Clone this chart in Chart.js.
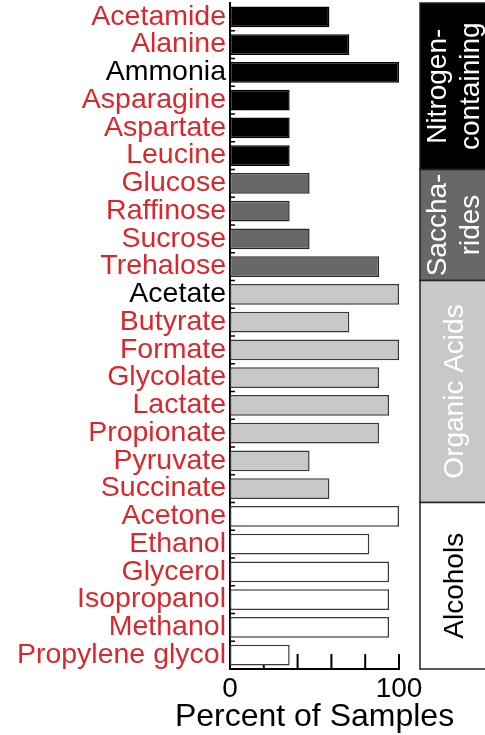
<!DOCTYPE html>
<html>
<head>
<meta charset="utf-8">
<script src="https://cdn.jsdelivr.net/npm/chart.js@4"></script>
<style>
  html, body { margin: 0; padding: 0; background: #fff; }
  #wrap { width: 485px; height: 735px; position: relative; }
</style>
</head>
<body>
<div id="wrap"><canvas id="chart"></canvas></div>
<script>
// compounds, top to bottom
const categories = ['Acetamide', 'Alanine', 'Ammonia', 'Asparagine', 'Aspartate', 'Leucine',
  'Glucose', 'Raffinose', 'Sucrose', 'Trehalose',
  'Acetate', 'Butyrate', 'Formate', 'Glycolate', 'Lactate', 'Propionate', 'Pyruvate', 'Succinate',
  'Acetone', 'Ethanol', 'Glycerol', 'Isopropanol', 'Methanol', 'Propylene glycol'];
const percentValues = [58.8, 70.6, 100, 35.3, 35.3, 35.3,
  47.1, 35.3, 47.1, 88.2,
  100, 70.6, 100, 88.2, 94.1, 88.2, 47.1, 58.8,
  100, 82.4, 94.1, 94.1, 94.1, 35.3];
const groupSizes = [6, 4, 8, 6];
const groupLabels = [['Nitrogen-', 'containing'], ['Saccha-', 'rides'], ['Organic Acids'], ['Alcohols']];
const blackLabels = ['Ammonia', 'Acetate'];
const xTicks = [0, 100];
const xTitle = 'Percent of Samples';

const FONT = "'Liberation Sans', Arial, Helvetica, sans-serif";
const RED = '#d8282e';

// fill / border / text colour for each group
const groupStyle = [
  { fill: '#000000', border: '#000000', text: '#ffffff' },
  { fill: '#686868', border: '#2a2a2a', text: '#ffffff' },
  { fill: '#c8c8c8', border: '#3a3a3a', text: '#ffffff' },
  { fill: '#ffffff', border: '#3a3a3a', text: '#000000' }
];

// which group each bar belongs to
const groupIndex = [];
groupSizes.forEach((n, g) => { for (let i = 0; i < n; i++) groupIndex.push(g); });

// inward ticks on both axes, drawn under the bars
const innerTicks = {
  id: 'innerTicks',
  beforeDatasetsDraw(chart) {
    const { ctx, chartArea, scales: { x, y } } = chart;
    ctx.save();
    ctx.strokeStyle = '#000';
    ctx.lineWidth = 2;
    [20, 40, 60, 80, 100].forEach(v => {
      const px = x.getPixelForValue(v);
      ctx.beginPath();
      ctx.moveTo(px, chartArea.bottom);
      ctx.lineTo(px, chartArea.bottom - 15);
      ctx.stroke();
    });
    ctx.lineWidth = 1.5;
    for (let i = 1; i < categories.length; i++) {
      const py = y.getPixelForValue(i - 0.5);
      ctx.beginPath();
      ctx.moveTo(chartArea.left, py);
      ctx.lineTo(chartArea.left + 5, py);
      ctx.stroke();
    }
    ctx.restore();
  }
};

// group boxes on the right + x axis title (Chart.js squeezes the title to the axis width)
const groupBoxes = {
  id: 'groupBoxes',
  afterDraw(chart) {
    const { ctx, scales: { x, y } } = chart;
    const left = 420, right = chart.width + 2;
    let start = 0;
    ctx.save();
    groupSizes.forEach((n, g) => {
      const top = y.getPixelForValue(start - 0.5);
      const bottom = y.getPixelForValue(start + n - 0.5);
      const st = groupStyle[g];
      ctx.fillStyle = st.fill;
      ctx.fillRect(left, top, right - left, bottom - top);
      ctx.strokeStyle = '#222';
      ctx.lineWidth = 1.5;
      ctx.strokeRect(left, top, right - left, bottom - top);
      const lines = groupLabels[g];
      ctx.save();
      ctx.translate(455, (top + bottom) / 2);
      ctx.rotate(-Math.PI / 2);
      ctx.fillStyle = st.text;
      ctx.font = '28px ' + FONT;
      ctx.textAlign = 'center';
      ctx.textBaseline = 'middle';
      lines.forEach((t, i) => {
        ctx.fillText(t, 0, (i - (lines.length - 1) / 2) * 33);
      });
      ctx.restore();
      start += n;
    });

    ctx.fillStyle = '#000';
    ctx.font = '32px ' + FONT;
    ctx.textAlign = 'center';
    ctx.textBaseline = 'middle';
    ctx.fillText(xTitle, x.getPixelForValue(50), 717);
    ctx.restore();
  }
};

new Chart(document.getElementById('chart'), {
  type: 'bar',
  data: {
    labels: categories,
    datasets: [{
      data: percentValues,
      backgroundColor: groupIndex.map(g => groupStyle[g].fill),
      borderColor: groupIndex.map(g => groupStyle[g].border),
      borderWidth: 1.5,
      borderSkipped: false,
      barPercentage: 0.74,
      categoryPercentage: 1
    }]
  },
  options: {
    indexAxis: 'y',
    responsive: true,
    maintainAspectRatio: false,
    animation: false,
    layout: { padding: { top: 3, right: 86, left: 0, bottom: 0 } },
    plugins: { legend: { display: false }, tooltip: { enabled: false } },
    scales: {
      x: {
        min: 0,
        max: 100,
        afterFit(scale) {
          scale.height = 66;
          scale.paddingLeft = 0;
          scale.paddingRight = 0;
        },
        grid: { display: false, drawTicks: false },
        border: { display: true, color: '#000', width: 2 },
        ticks: {
          stepSize: 20,
          padding: 3,
          autoSkip: false,
          maxRotation: 0,
          minRotation: 0,
          color: '#000',
          font: { family: FONT, size: 28 },
          callback: v => xTicks.includes(v) ? v : ''
        }
      },
      y: {
        afterFit(scale) {
          scale.width = 230;
          scale.paddingTop = 0;
          scale.paddingBottom = 0;
        },
        grid: { display: false, drawTicks: false },
        border: { display: true, color: '#000', width: 2 },
        ticks: {
          padding: 4,
          autoSkip: false,
          font: { family: FONT, size: 28.5 },
          color: ctx => blackLabels.includes(categories[ctx.index]) ? '#000' : RED
        }
      }
    }
  },
  plugins: [innerTicks, groupBoxes]
});
</script>
</body>
</html>
